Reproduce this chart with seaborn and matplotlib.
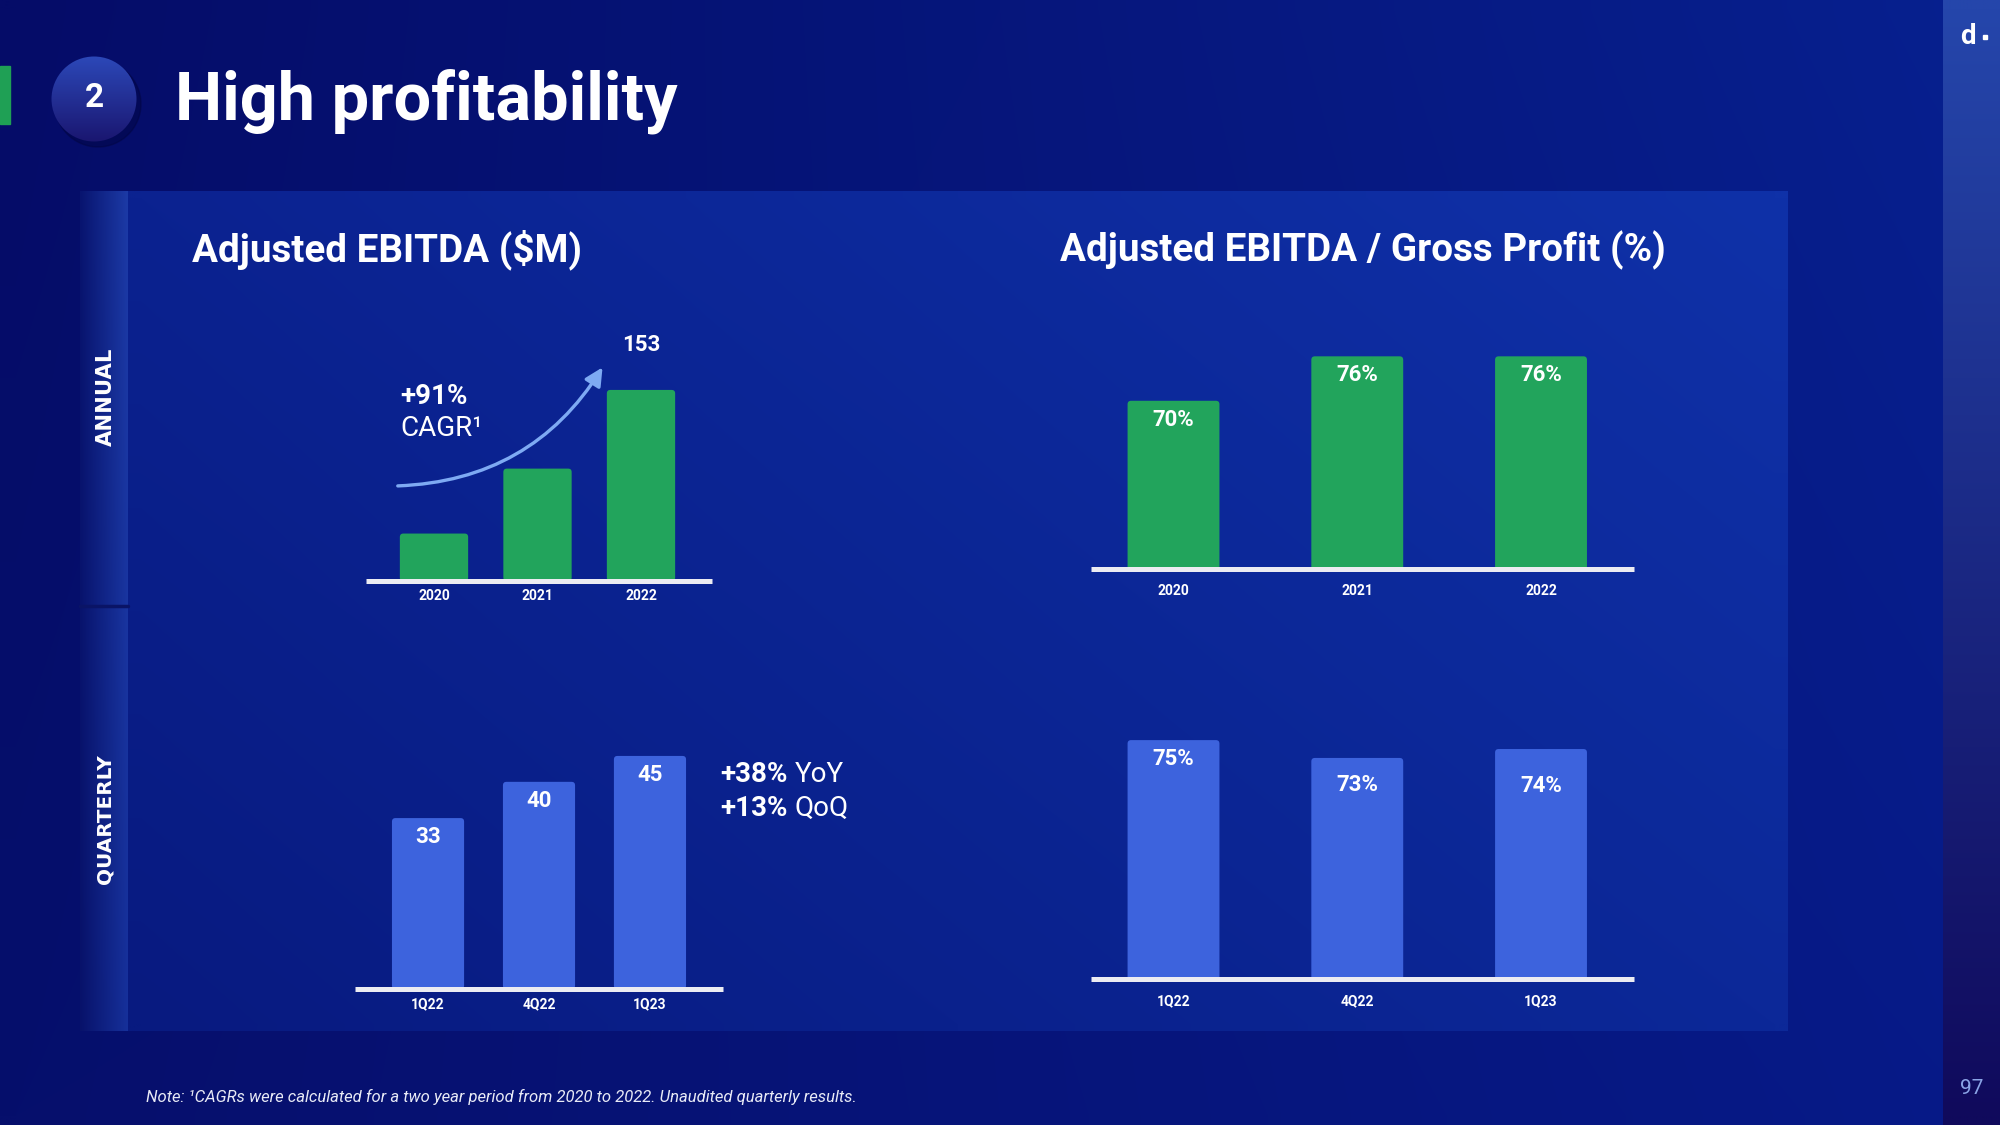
import matplotlib
matplotlib.use("Agg")
import matplotlib.pyplot as plt
import matplotlib.patches as mpatches
import matplotlib.colors as mcolors
import numpy as np
import seaborn as sns

# ---- data ----
years = ["2020", "2021", "2022"]
quarters = ["1Q22", "4Q22", "1Q23"]
ebitda_annual = [38, 90, 153]
ebitda_quarterly = [33, 40, 45]
margin_annual = [70, 76, 76]
margin_quarterly = [75, 73, 74]
ebitda_annual_labels = ["", "", "153"]

GREEN = "#22a45c"
BLUE = "#3d63dd"
AXIS_LINE = "#ececf2"
ARROW = "#7eaaf3"
W, H = 2000, 1125

sns.set_theme(style="white")
plt.rcParams["font.family"] = ["Roboto", "DejaVu Sans"]

fig = plt.figure(figsize=(20, 11.25), dpi=100)

bg = fig.add_axes([0, 0, 1, 1])
bg.axis("off")


def gradient(ax, x0, x1, y0, y1, tl, tr, bl, br, clip=None, z=0):
    n = 64
    u = np.linspace(0, 1, n)[None, :, None]
    v = np.linspace(0, 1, n)[:, None, None]
    c = [np.array(mcolors.to_rgb(k)) for k in (tl, tr, bl, br)]
    top = c[0] * (1 - u) + c[1] * u
    bot = c[2] * (1 - u) + c[3] * u
    img = top * (1 - v) + bot * v
    im = ax.imshow(img, extent=(x0, x1, y1, y0), origin="upper",
                   interpolation="bilinear", aspect="auto", zorder=z)
    if clip is not None:
        im.set_clip_path(clip)
    return im


# page background, content panel, side strips
gradient(bg, 0, W, 0, H, "#050c68", "#07208f", "#060f6c", "#071a88")
gradient(bg, 128, 1788, 191, 1031, "#0b2290", "#0f31a8", "#081a80", "#0c2898", z=1)
gradient(bg, 80, 128, 191, 1031, "#08146f", "#1c3aa6", "#08126a", "#16309a", z=1)
bg.plot([80, 128], [606, 606], color="#0a1466", lw=2.5, zorder=2)
gradient(bg, 1943, W, 0, H, "#2546ab", "#2546ab", "#100a5c", "#100a5c", z=1)

# title block
bg.add_patch(mpatches.Rectangle((0, 66), 10, 58, color="#1fa055", zorder=3))
shadow = mpatches.Circle((98, 104), 43, color="#020540", alpha=0.45, zorder=3)
bg.add_patch(shadow)
circ = mpatches.Circle((94, 99), 42.5, transform=bg.transData, facecolor="none",
                       edgecolor="none", zorder=4)
bg.add_patch(circ)
gradient(bg, 50, 138, 56, 142, "#2c48b8", "#2c48b8", "#1a1670", "#1a1670", clip=circ, z=4)
bg.text(94, 98, "2", color="white", fontsize=24, fontweight="bold",
        ha="center", va="center", zorder=5)
bg.text(175, 120, "High profitability", color="white", fontsize=48,
        fontweight="bold", ha="left", va="baseline", zorder=5)

bg.text(192, 261, "Adjusted EBITDA ($M)", color="white", fontsize=27.8,
        fontweight="bold", ha="left", va="baseline", zorder=5)
bg.text(1060, 261, "Adjusted EBITDA / Gross Profit (%)", color="white",
        fontsize=27.8, fontweight="bold", ha="left", va="baseline", zorder=5)

side_font = ["DejaVu Sans"]
bg.text(106, 397, "ANNUAL", color="white", fontsize=15.2, fontweight="bold",
        rotation=90, ha="center", va="center", family=side_font, zorder=5)
bg.text(105, 819, "QUARTERLY", color="white", fontsize=14.4, fontweight="bold",
        rotation=90, ha="center", va="center", family=side_font, zorder=5)

bg.text(146, 1097, "Note: \u00b9CAGRs were calculated for a two year period from 2020 to 2022. "
        "Unaudited quarterly results.", color="#e8eaf6", fontsize=12,
        style="italic", ha="left", va="center", zorder=5)
bg.text(1968, 37, "d", color="white", fontsize=20, fontweight="bold",
        ha="center", va="center", zorder=5)
bg.add_patch(mpatches.Rectangle((1983, 35), 4, 4, color="white", zorder=5))
bg.text(1972, 1089, "97", color="#8aa4e6", fontsize=15, ha="center",
        va="center", zorder=5)

# CAGR arrow and annotations
bg.annotate("", xy=(604, 365), xytext=(395, 486), zorder=6,
            arrowprops=dict(arrowstyle="-|>,head_length=0.9,head_width=0.45",
                            color=ARROW, lw=2.4,
                            connectionstyle="arc3,rad=0.27"))
bg.text(400, 397, "+91%", color="white", fontsize=20, fontweight="bold",
        ha="left", va="center", zorder=6)
bg.text(400, 429, "CAGR\u00b9", color="white", fontsize=20,
        ha="left", va="center", zorder=6)
for y, bold, rest in [(775, "+38%", "YoY"), (808, "+13%", "QoQ")]:
    t = bg.text(720, y, bold, color="white", fontsize=20, fontweight="bold",
                ha="left", va="center", zorder=6)
    bg.annotate(rest, xy=(1, 0.5), xycoords=t, xytext=(5, 0),
                textcoords="offset points", color="white", fontsize=20,
                ha="left", va="center", zorder=6)

bg.set_xlim(0, W)
bg.set_ylim(H, 0)


def px_axes(x0, x1, ytop, ybot):
    return fig.add_axes([x0 / W, 1 - ybot / H, (x1 - x0) / W, (ybot - ytop) / H])


def round_bars(ax, radius_px=3.5):
    p0 = ax.transData.transform((0, 0))
    p1 = ax.transData.transform((1, 1))
    sx, sy = p1[0] - p0[0], p1[1] - p0[1]
    for bar in list(ax.patches):
        fb = mpatches.FancyBboxPatch(
            (bar.get_x(), bar.get_y()), bar.get_width(), bar.get_height(),
            boxstyle=f"round,pad=0,rounding_size={radius_px / sx}",
            mutation_aspect=sx / sy, facecolor=bar.get_facecolor(),
            edgecolor="none", linewidth=0, zorder=1)
        ax.add_patch(fb)
        bar.set_visible(False)


def bar_chart(rect, cats, vals, labels, color, width, xlim, ylim, pad,
              offsets, above=False):
    ax = px_axes(*rect)
    sns.barplot(x=cats, y=vals, color=color, saturation=1, width=width,
                linewidth=0, edgecolor="none", ax=ax)
    ax.set_xlim(*xlim)
    ax.set_ylim(*ylim)
    ax.set_facecolor("none")
    sns.despine(ax=ax, left=True)
    ax.spines["bottom"].set_color(AXIS_LINE)
    ax.spines["bottom"].set_linewidth(3.6)
    ax.spines["bottom"].set_capstyle("butt")
    ax.set_yticks([])
    ax.set_xlabel("")
    ax.set_ylabel("")
    ax.tick_params(axis="x", length=0, pad=pad, labelsize=10, labelcolor="white")
    for lbl in ax.get_xticklabels():
        lbl.set_fontweight("bold")
    bars = list(ax.patches)
    for bar, txt, off in zip(bars, labels, offsets):
        if not txt:
            continue
        cx = bar.get_x() + bar.get_width() / 2
        ax.annotate(txt, xy=(cx, bar.get_height()), xytext=(0, off),
                    textcoords="offset points", ha="center", va="center",
                    color="white", fontsize=16, fontweight="bold")
    round_bars(ax)
    return ax


bar_chart((366, 712, 300, 581), years, ebitda_annual, ebitda_annual_labels,
          GREEN, 0.66, (-0.657, 2.686), (0, 225), 5.8, [0, 0, 32.4])
bar_chart((1091, 1634, 300, 569), years, margin_annual,
          [f"{v}%" for v in margin_annual], GREEN, 0.5, (-0.449, 2.506),
          (47.3, 83.6), 11, [-13.7, -13.7, -13.7])
bar_chart((355, 723, 700, 989), quarters, ebitda_quarterly,
          [str(v) for v in ebitda_quarterly], BLUE, 0.65, (-0.658, 2.658),
          (0, 55.8), 5.8, [-13.7, -13.7, -13.7])
bar_chart((1091, 1634, 700, 979), quarters, margin_quarterly,
          [f"{v}%" for v in margin_quarterly], BLUE, 0.5, (-0.449, 2.506),
          (48.2, 79.5), 11, [-13.7, -19.5, -26.8])

fig.savefig("out.png", dpi=100, facecolor="#050c68")
